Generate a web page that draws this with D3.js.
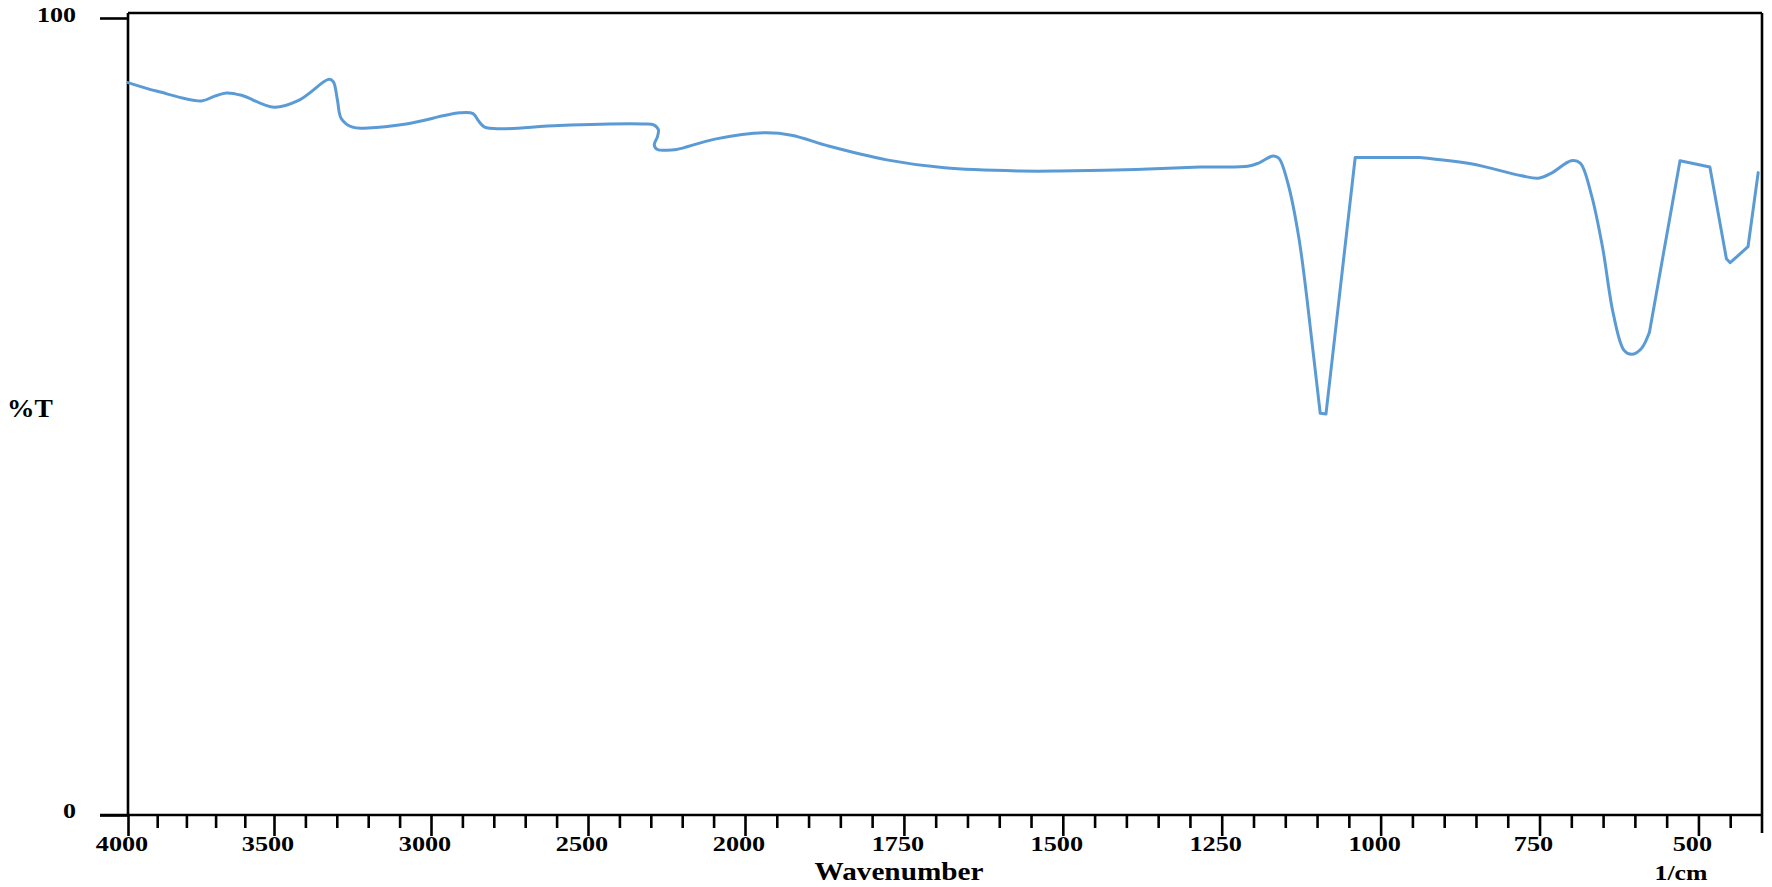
<!DOCTYPE html>
<html>
<head>
<meta charset="utf-8">
<script src="https://cdn.jsdelivr.net/npm/d3@7"></script>
<style>
  body { margin: 0; background: #fff; }
  text { font-family: "Liberation Serif", "Times New Roman", serif; font-weight: bold; fill: #000; }
</style>
</head>
<body>
<div id="myChart"></div>
<script>
// spectrum (wavenumber in 1/cm, transmittance in %)
const wavenumber = [4000, 3899, 3749, 3703, 3663, 3611, 3500, 3420, 3325, 3311, 3298, 3286, 3250, 3201, 3079,
    2909, 2866, 2847, 2829, 2775, 2592, 2324, 2291, 2276, 2279, 2289, 2279, 2250, 2218, 2096, 1969, 1927,
    1867, 1777, 1686, 1566, 1506, 1385, 1284, 1209, 1192, 1169, 1160, 1146, 1129, 1112, 1095, 1086,
    1040, 939, 858, 778, 752, 732, 700, 686, 669, 651, 634, 617, 605, 590, 577, 529, 482, 456,
    450, 422, 406];
const transmittance = [91.9, 90.8, 89.6, 90.2, 90.6, 90.3, 88.8, 89.7, 92.3, 92.0, 89.7, 87.4, 86.3, 86.2, 86.7,
    88.1, 88.0, 87.0, 86.3, 86.1, 86.5, 86.7, 86.6, 86.0, 85.1, 84.1, 83.5, 83.4, 83.5, 84.8, 85.6, 85.3,
    83.9, 82.2, 81.2, 80.8, 80.8, 81.0, 81.3, 81.4, 81.8, 82.7, 82.4, 79.3, 72.6, 62.1, 50.4, 50.3,
    82.5, 82.5, 81.7, 80.2, 79.9, 80.5, 82.1, 81.8, 78.0, 71.3, 62.9, 58.3, 57.8, 58.5, 60.6, 82.1,
    81.3, 69.8, 69.3, 71.3, 80.6];

const xTickLabels = [4000, 3500, 3000, 2500, 2000, 1750, 1500, 1250, 1000, 750, 500];
const yTickLabels = [0, 100];

const width = 1772;
const height = 887;

// x axis is expanded below 2000 1/cm
const x = d3.scaleLinear()
    .domain([4000, 3500, 2000, 400])
    .range([128, 274, 745, 1762]);
const y = d3.scaleLinear()
    .domain([0, 100])
    .range([815, 18]);

const minorTicks = d3.range(3900, 2000, -100).concat(d3.range(1950, 440, -50))
    .filter(v => !xTickLabels.includes(v));

const svg = d3.select("#myChart")
    .append("svg")
    .attr("width", width)
    .attr("height", height);

const frameTop = 13;
const xEnd = x(400);

//frame
svg.append("path")
    .attr("d", `M100,${y(0)}H${xEnd}M${x(4000)},${frameTop}H${xEnd}M${x(4000)},${frameTop}V${y(0)}M${xEnd},${frameTop}V${y(0) + 18}`)
    .attr("stroke", "#000")
    .attr("stroke-width", 2.6)
    .attr("fill", "none");

//minor and major ticks on the x axis
const minorAxis = d3.axisBottom(x).tickValues(minorTicks).tickSize(13).tickFormat("");
const majorAxis = d3.axisBottom(x).tickValues(xTickLabels).tickSize(21).tickFormat("");
[minorAxis, majorAxis].forEach(ax => {
    const g = svg.append("g").attr("transform", `translate(0,${y(0)})`).call(ax);
    g.select(".domain").remove();
    g.selectAll("line").attr("stroke", "#000").attr("stroke-width", 2.6);
});

//y ticks
const yAxis = svg.append("g")
    .attr("transform", `translate(${x(4000)},0)`)
    .call(d3.axisLeft(y).tickValues(yTickLabels).tickSize(28).tickFormat(""));
yAxis.select(".domain").remove();
yAxis.selectAll("line").attr("stroke", "#000").attr("stroke-width", 2.6);

//x tick labels, drawn a bit wide like the original
svg.selectAll(".xlabel")
    .data(xTickLabels)
    .enter().append("text")
    .attr("class", "xlabel")
    .attr("transform", d => `translate(${x(d) - 6},851) scale(1.25,1)`)
    .attr("text-anchor", "middle")
    .style("font-size", "21px")
    .text(d => d);

svg.selectAll(".ylabel")
    .data(yTickLabels)
    .enter().append("text")
    .attr("class", "ylabel")
    .attr("transform", d => `translate(76,${y(d) + (d === 0 ? 3 : 4)}) scale(1.3,1)`)
    .attr("text-anchor", "end")
    .style("font-size", "20px")
    .text(d => d);

//axis titles
svg.append("text")
    .attr("transform", "translate(899,880) scale(1.17,1)")
    .attr("text-anchor", "middle")
    .style("font-size", "25px")
    .text("Wavenumber");

svg.append("text")
    .attr("transform", "translate(1681,880) scale(1.17,1)")
    .attr("text-anchor", "middle")
    .style("font-size", "22px")
    .text("1/cm");

svg.append("text")
    .attr("transform", "translate(30,417) scale(1.1,1)")
    .attr("text-anchor", "middle")
    .style("font-size", "25px")
    .text("%T");

//spectrum line: smooth stretches and straight stretches (index ranges into the arrays)
const points = wavenumber.map((w, i) => [w, transmittance[i]]);
const pieces = [
    { from: 0, to: 45, smooth: true },
    { from: 45, to: 49, smooth: false },
    { from: 49, to: 62, smooth: true },
    { from: 62, to: 68, smooth: false }
];

const smoothLine = d3.line()
    .x(d => x(d[0]))
    .y(d => y(d[1]))
    .curve(d3.curveCatmullRom.alpha(0.5));
const straightLine = d3.line()
    .x(d => x(d[0]))
    .y(d => y(d[1]));

svg.selectAll(".spectrum")
    .data(pieces)
    .enter().append("path")
    .attr("class", "spectrum")
    .attr("d", p => (p.smooth ? smoothLine : straightLine)(points.slice(p.from, p.to + 1)))
    .attr("fill", "none")
    .attr("stroke", "#5b9bd5")
    .attr("stroke-width", 3)
    .attr("stroke-linejoin", "round")
    .attr("stroke-linecap", "round");
</script>
</body>
</html>
